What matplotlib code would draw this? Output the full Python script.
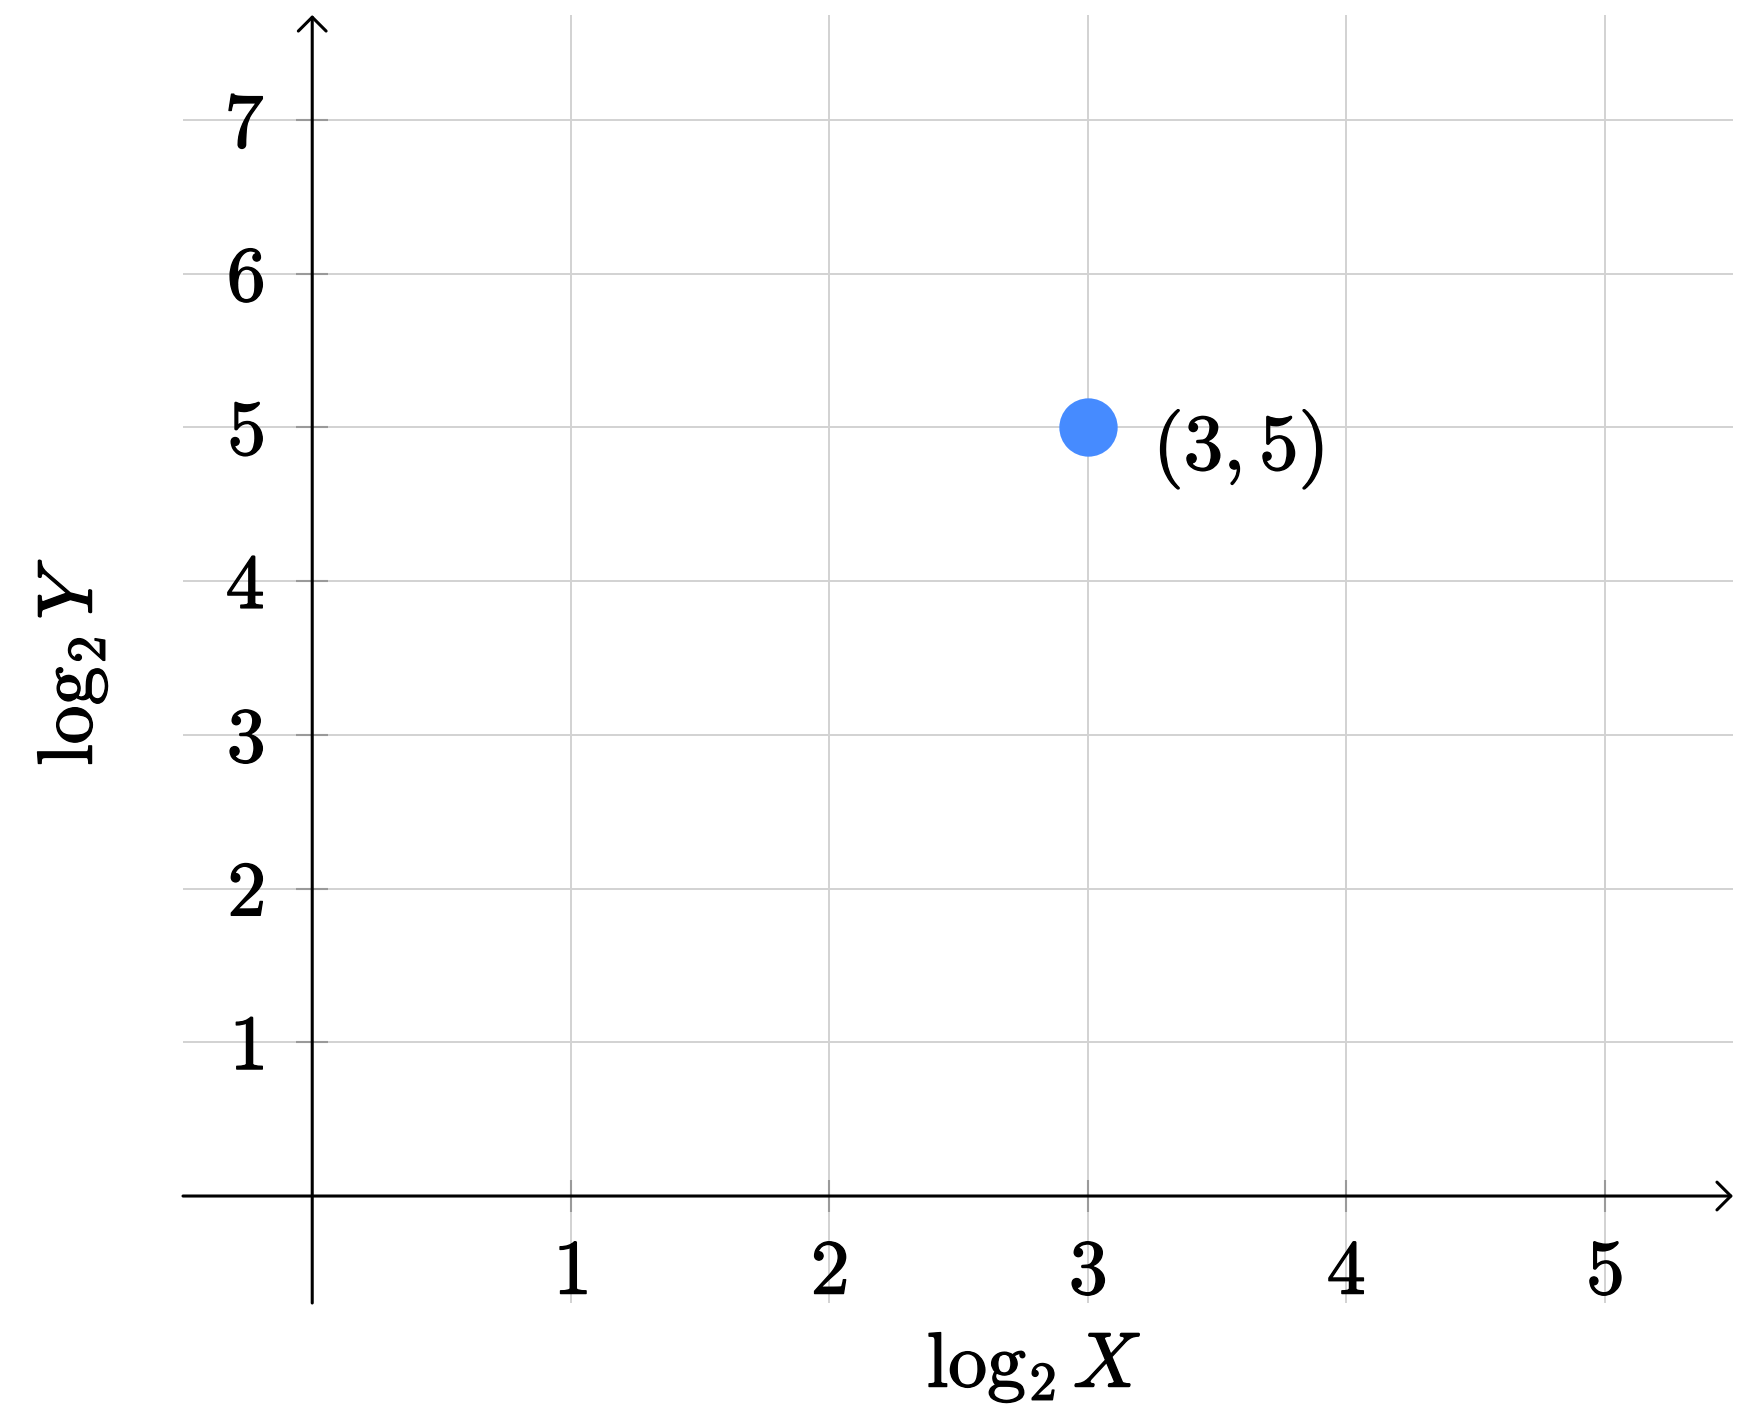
import matplotlib
matplotlib.use("Agg")
import matplotlib.pyplot as plt
import matplotlib.patheffects as pe

# data
xTicks = [1, 2, 3, 4, 5]
yTicks = [1, 2, 3, 4, 5, 6, 7]
pointX = [3]
pointY = [5]
pointLabel = "$(3, 5)$"

plt.rcParams['mathtext.fontset'] = 'cm'
plt.rcParams['font.family'] = 'serif'
plt.rcParams['font.serif'] = ['cmr10', 'DejaVu Serif']

# slightly heavier text, like the reference rendering
bold = [pe.withStroke(linewidth=1.0, foreground='black')]

fig = plt.figure(figsize=(17.4, 14.2), dpi=100)
ax = fig.add_axes([0.10517, 0.08239, 0.89080, 0.90704])
ax.set_xlim(-0.5, 5.497)
ax.set_ylim(-0.696, 7.683)

# axes through the origin, drawn as arrows
for s in ax.spines.values():
    s.set_visible(False)
ax.spines['left'].set_position(('data', 0))
ax.spines['bottom'].set_position(('data', 0))

ax.set_xticks(xTicks)
ax.set_yticks(yTicks)
ax.set_xticklabels(["$%d$" % v for v in xTicks])
ax.set_yticklabels(["$%d$" % v for v in yTicks])
ax.tick_params(axis='both', direction='inout', length=23, width=1.5,
               color='#9a9a9a', labelsize=56)
ax.tick_params(axis='x', pad=20)
ax.tick_params(axis='y', pad=23)
for lab in ax.get_xticklabels() + ax.get_yticklabels():
    lab.set_path_effects(bold)
ax.grid(True, color='#d2d2d2', linewidth=1.4)
ax.set_axisbelow(True)

arrow = dict(arrowstyle='->,head_length=0.4,head_width=0.4', lw=2.2,
             color='black', shrinkA=0, shrinkB=0, mutation_scale=25)
ax.annotate('', xy=(5.497, 0), xytext=(-0.5, 0), arrowprops=arrow,
            annotation_clip=False)
ax.annotate('', xy=(0, 7.683), xytext=(0, -0.696), arrowprops=arrow,
            annotation_clip=False)

ax.plot(pointX, pointY, 'o', color='#468bff', markersize=42,
        markeredgewidth=0, zorder=5)
for px, py in zip(pointX, pointY):
    ax.annotate(pointLabel, (px, py), xytext=(47, -30),
                textcoords='offset points', ha='left', va='baseline',
                fontsize=57, path_effects=bold)

fig.text(1034 / 1740, 1 - 1387 / 1420, r"$\log_2 X$", ha='center',
         va='baseline', fontsize=56, path_effects=bold)
fig.text(110 / 1740, 1 - 662 / 1420, r"$\log_2 Y$", ha='right',
         va='center', rotation=90, fontsize=56, path_effects=bold)

fig.savefig('out.png', dpi=100)
